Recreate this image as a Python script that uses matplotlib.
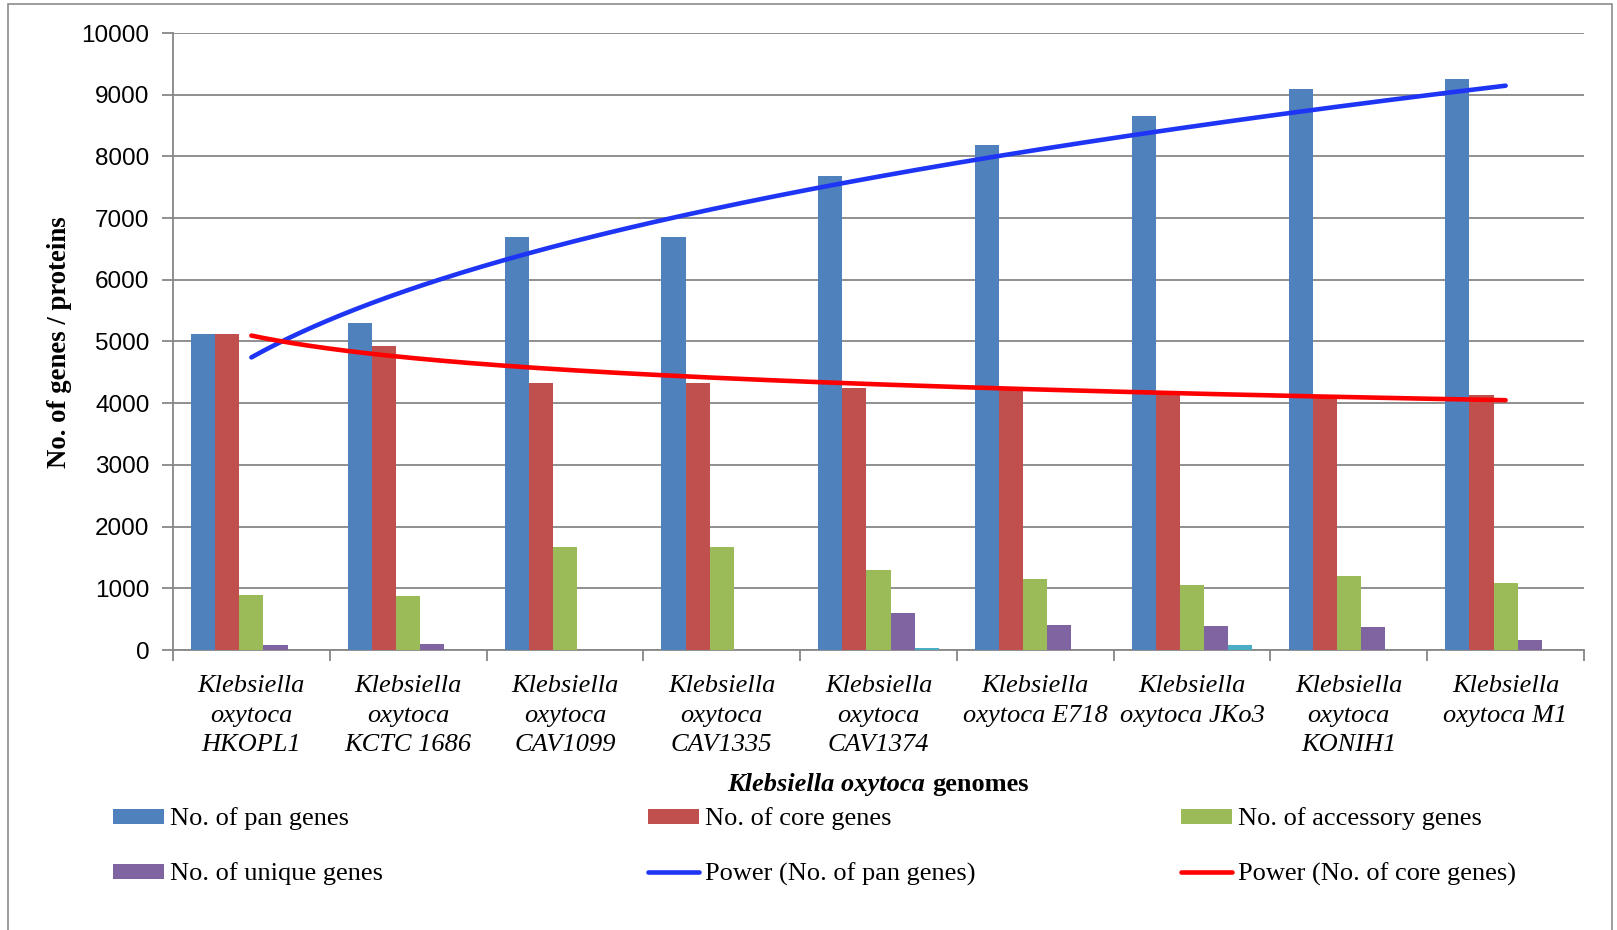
import numpy as np
import matplotlib
matplotlib.use("Agg")
import matplotlib.pyplot as plt
from matplotlib.patches import Rectangle

# ---- data -------------------------------------------------------------
genomes = [
    "Klebsiella\noxytoca\nHKOPL1",
    "Klebsiella\noxytoca\nKCTC 1686",
    "Klebsiella\noxytoca\nCAV1099",
    "Klebsiella\noxytoca\nCAV1335",
    "Klebsiella\noxytoca\nCAV1374",
    "Klebsiella\noxytoca E718",
    "Klebsiella\noxytoca JKo3",
    "Klebsiella\noxytoca\nKONIH1",
    "Klebsiella\noxytoca M1",
]
pan_genes = [5124, 5302, 6686, 6697, 7686, 8189, 8648, 9086, 9259]
core_genes = [5124, 4935, 4329, 4329, 4243, 4225, 4190, 4130, 4125]
accessory_genes = [894, 883, 1668, 1673, 1302, 1144, 1057, 1193, 1079]
unique_genes = [82, 98, 0, 0, 605, 403, 392, 376, 163]
absent_genes = [0, 0, 0, 0, 27, 0, 82, 0, 0]
y_ticks = list(range(0, 10001, 1000))

series_labels = ["No. of pan genes", "No. of core genes",
                 "No. of accessory genes", "No. of unique genes", None]
bar_colors = ["#4F81BD", "#C0504D", "#9BBB59", "#8064A2", "#4BACC6"]
pan_trend_color = "#1F35F5"
core_trend_color = "#FF0000"
grid_grey = "#878787"

SERIF = "Liberation Serif"
SANS = "Liberation Sans"
TXT = 19

# ---- figure geometry (pixel based) -----------------------------------
W, H, DPI = 1617, 930, 100
fig = plt.figure(figsize=(W / DPI, H / DPI), dpi=DPI)


def fx(px):
    return px / W


def fy(py):
    return 1 - py / H


ax = fig.add_axes([fx(173), fy(650), fx(1584) - fx(173), fy(33) - fy(650)])

# outer chart frame
fig.patches.append(Rectangle((fx(8), fy(960)), fx(1612) - fx(8), fy(4) - fy(960),
                             transform=fig.transFigure, fill=False,
                             edgecolor="#8C8C8C", lw=1.2, zorder=0))

# ---- bars ---------------------------------------------------------------
x = np.arange(len(genomes))
all_series = [pan_genes, core_genes, accessory_genes, unique_genes, absent_genes]
n = len(all_series)
bar_w = 1 / (n + 1.5)
bar_handles = []
for i, (vals, col) in enumerate(zip(all_series, bar_colors)):
    bc = ax.bar(x + (i - (n - 1) / 2) * bar_w, vals, width=bar_w, color=col,
                edgecolor="none", zorder=3)
    bar_handles.append(bc)


# ---- power trendlines y = a * x^b (least squares in log-log) ----------
def power_fit(vals):
    k = np.arange(1, len(vals) + 1)
    b, ln_a = np.polyfit(np.log(k), np.log(vals), 1)
    return np.exp(ln_a), b


xs = np.linspace(1, len(genomes), 300)
a_pan, b_pan = power_fit(pan_genes)
a_core, b_core = power_fit(core_genes)
pan_line, = ax.plot(xs - 1, a_pan * xs ** b_pan, color=pan_trend_color, lw=3.3,
                    solid_capstyle="round", zorder=5)
core_line, = ax.plot(xs - 1, a_core * xs ** b_core, color=core_trend_color, lw=3.3,
                     solid_capstyle="round", zorder=5)

# ---- axes styling -------------------------------------------------------
ax.set_xlim(-0.5, len(genomes) - 0.5)
ax.set_ylim(0, 10000)
ax.set_yticks(y_ticks)
ax.set_yticklabels([str(t) for t in y_ticks], fontfamily=SANS, fontsize=17.5)
ax.yaxis.grid(True, color=grid_grey, lw=1.3, zorder=0)
ax.set_axisbelow(True)
for s in ["top", "right"]:
    ax.spines[s].set_visible(False)
for s in ["left", "bottom"]:
    ax.spines[s].set_color(grid_grey)
    ax.spines[s].set_linewidth(1.3)
ax.tick_params(axis="y", length=8, width=1.3, color=grid_grey, pad=9)

ax.set_xticks(np.arange(-0.5, len(genomes), 1))
ax.set_xticklabels([])
ax.tick_params(axis="x", which="major", length=8, width=1.3, color=grid_grey)
ax.set_xticks(x, minor=True)
ax.set_xticklabels(genomes, minor=True, fontfamily=SERIF, fontstyle="italic",
                   fontsize=TXT, linespacing=1.45)
ax.tick_params(axis="x", which="minor", length=0, pad=18)

# y axis title
fig.text(fx(60), fy(342), "No. of genes / proteins", rotation=90, ha="center",
         va="center", fontfamily=SERIF, fontweight="bold", fontsize=19.3)

# x axis title: italic species name followed by upright word
renderer = fig.canvas.get_renderer()
t1 = fig.text(0, 0, "Klebsiella oxytoca", fontfamily=SERIF, fontstyle="italic",
              fontweight="bold", fontsize=TXT, va="baseline", ha="left")
t2 = fig.text(0, 0, "genomes", fontfamily=SERIF, fontweight="bold",
              fontsize=TXT, va="baseline", ha="left")
w1 = t1.get_window_extent(renderer).width
w2 = t2.get_window_extent(renderer).width
gap = 0.25 * TXT * DPI / 72
x0 = 878 - (w1 + gap + w2) / 2
t1.set_position((fx(x0), fy(791)))
t2.set_position((fx(x0 + w1 + gap), fy(791)))

# ---- legend: six entries in a 3 x 2 grid ------------------------------
legend_items = [
    (bar_handles[0], series_labels[0], 113, 819),
    (bar_handles[1], series_labels[1], 648, 819),
    (bar_handles[2], series_labels[2], 1181, 819),
    (bar_handles[3], series_labels[3], 113, 874),
    (pan_line, "Power (No. of pan genes)", 648, 874),
    (core_line, "Power (No. of core genes)", 1181, 874),
]
for handle, label, lx, ly in legend_items:
    fig.legend([handle], [label], loc="center left",
               bbox_to_anchor=(fx(lx), fy(ly)), frameon=False,
               borderpad=0, borderaxespad=0, handlelength=1.95,
               handleheight=0.5, handletextpad=0.2,
               prop={"family": SERIF, "size": TXT})

fig.savefig("out.png", dpi=DPI)
